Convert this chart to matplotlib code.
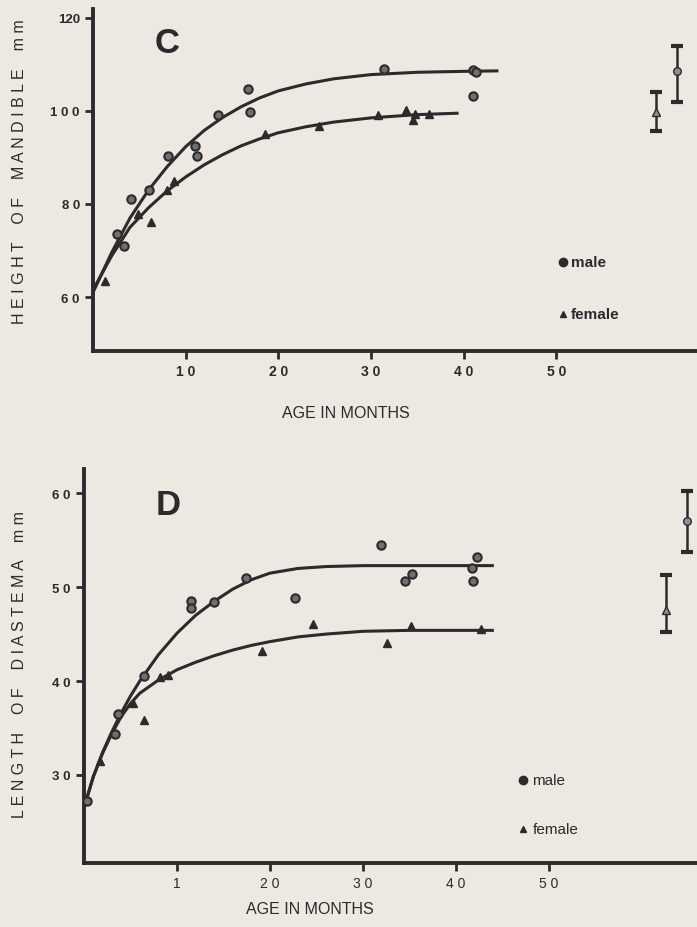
"""
growth curves of mandible height and diastema length (panels C and D)
"""
import numpy as np
import matplotlib.pyplot as plt

plt.rcParams['font.family'] = ['Liberation Sans', 'DejaVu Sans']

paper = '#eee8e3'
ink = '#2b2b2b'

# panel C : height of mandible (mm) vs age (months)
c_male_x = [2.6, 3.3, 4.1, 6.0, 8.1, 11.0, 11.2, 13.5, 16.7, 17.0, 31.4, 41.0, 41.3, 41.0]
c_male_y = [73.5, 71.0, 81.1, 83.0, 90.3, 92.5, 90.3, 99.1, 104.7, 99.8, 109.0, 108.8, 108.3, 103.2]
c_fem_x = [1.3, 4.9, 6.3, 8.0, 8.7, 18.6, 24.4, 30.8, 33.8, 34.8, 34.5, 36.3]
c_fem_y = [63.4, 77.8, 76.1, 83.0, 85.0, 95.0, 96.8, 99.1, 100.2, 99.4, 98.1, 99.4]
# fitted curves
c_male_cx = [0, 2, 4, 6, 8, 10, 12, 14, 16, 18, 20, 23, 26, 30, 35, 40, 43.6]
c_male_cy = [61, 69.5, 77, 83, 88, 92.3, 95.8, 98.6, 100.9, 102.8, 104.3, 105.8, 106.9, 107.8, 108.3, 108.5, 108.6]
c_fem_cx = [0, 2, 4, 6, 8, 10, 12, 14, 16, 18, 20, 23, 26, 30, 35, 39.3]
c_fem_cy = [61.5, 68.8, 75.0, 79.2, 82.8, 85.8, 88.4, 90.6, 92.5, 94.0, 95.3, 96.6, 97.6, 98.5, 99.2, 99.5]
# mean +- range bars at right
c_bar_x = [63.0, 60.8]
c_bar_mid = [108.6, 99.8]
c_bar_lo = [101.9, 95.7]
c_bar_hi = [114.0, 104.1]

# panel D : length of diastema (mm) vs age (months)
d_male_x = [0.3, 3.3, 3.7, 6.4, 11.5, 11.5, 14.0, 17.4, 22.7, 31.9, 34.5, 35.3, 41.8, 42.3, 41.7]
d_male_y = [27.2, 34.4, 36.5, 40.5, 48.5, 47.8, 48.4, 51.0, 48.9, 54.5, 50.7, 51.4, 50.7, 53.2, 52.1]
d_fem_x = [1.7, 5.3, 6.4, 8.2, 9.0, 19.1, 24.6, 32.6, 35.2, 42.7]
d_fem_y = [31.5, 37.7, 35.8, 40.4, 40.6, 43.2, 46.1, 44.0, 45.9, 45.5]
d_male_cx = [0, 1, 2, 3, 4, 5, 6, 8, 10, 12, 14, 16, 18, 20, 23, 26, 30, 35, 40, 43.9]
d_male_cy = [26.5, 29.8, 32.4, 34.6, 36.6, 38.4, 40.0, 42.8, 45.1, 47.0, 48.5, 49.8, 50.8, 51.5, 52.0, 52.2, 52.3, 52.3, 52.3, 52.3]
d_fem_cx = [0, 1, 2, 3, 4, 5, 6, 8, 10, 12, 14, 16, 18, 20, 23, 26, 30, 35, 40, 43.9]
d_fem_cy = [26.5, 29.8, 32.3, 34.4, 36.2, 37.6, 38.7, 40.1, 41.2, 42.0, 42.7, 43.3, 43.8, 44.2, 44.7, 45.0, 45.3, 45.4, 45.4, 45.4]
d_bar_x = [64.8, 62.6]
d_bar_mid = [57.1, 47.6]
d_bar_lo = [53.7, 45.2]
d_bar_hi = [60.3, 51.3]

W, H = 697, 928
fig = plt.figure(figsize=(W/100, H/100), dpi=100, facecolor=paper)

def px_axes(left, right, top, bottom):
    return fig.add_axes([left/W, 1-bottom/H, (right-left)/W, (bottom-top)/H])

def style(ax):
    ax.set_facecolor('none')
    for s in ['top', 'right']:
        ax.spines[s].set_visible(False)
    for s in ['left', 'bottom']:
        ax.spines[s].set_linewidth(2.8)
        ax.spines[s].set_color(ink)
    ax.tick_params(direction='out', length=6, width=2, color=ink, labelcolor=ink)

def draw(ax, mx, my, fx, fy, mcx, mcy, fcx, fcy, bx, bmid, blo, bhi):
    ax.plot(mcx, mcy, color=ink, lw=2.2, zorder=2)
    ax.plot(fcx, fcy, color=ink, lw=2.2, zorder=2)
    ax.plot(mx, my, 'o', ms=6, mfc='#707070', mec=ink, mew=1.5, zorder=3)
    ax.plot(fx, fy, '^', ms=5.5, mfc=ink, mec=ink, zorder=3)
    lo = np.array(bmid) - np.array(blo)
    hi = np.array(bhi) - np.array(bmid)
    ax.errorbar(bx[0], bmid[0], yerr=[[lo[0]], [hi[0]]], fmt='o', ms=5.5, mfc='#909090', mec=ink,
                ecolor=ink, elinewidth=1.8, capsize=4, capthick=3)
    ax.errorbar(bx[1], bmid[1], yerr=[[lo[1]], [hi[1]]], fmt='^', ms=5.5, mfc='#909090', mec=ink,
                ecolor=ink, elinewidth=1.8, capsize=4, capthick=3)

# ---- panel C
axc = px_axes(93, 697, 10, 352)
style(axc)
axc.set_xlim(0, 65.2)
axc.set_ylim(48.4, 121.9)
draw(axc, c_male_x, c_male_y, c_fem_x, c_fem_y, c_male_cx, c_male_cy, c_fem_cx, c_fem_cy,
     c_bar_x, c_bar_mid, c_bar_lo, c_bar_hi)
axc.set_xticks([10, 20, 30, 40, 50])
axc.set_xticklabels(['1 0', '2 0', '3 0', '4 0', '5 0'], fontsize=10, fontweight='bold')
axc.set_yticks([60, 80, 100, 120])
axc.set_yticklabels(['6 0', '8 0', '1 0 0', '120'], fontsize=9.5, fontweight='bold')
axc.text(8.0, 114.8, 'C', fontsize=25, fontweight='bold', color=ink, ha='center', va='center')
axc.plot([50.7], [67.5], 'o', ms=6, color=ink)
axc.text(51.6, 67.5, 'male', fontsize=11, fontweight='bold', color=ink, va='center')
axc.plot([50.7], [56.3], '^', ms=5, color=ink)
axc.text(51.6, 56.3, 'female', fontsize=11, fontweight='bold', color=ink, va='center')
fig.text(20/W, 1-172/H, 'H E I G H T    O F    M A N D I B L E    m m', rotation=90,
         fontsize=11.5, color=ink, ha='center', va='center')
fig.text(346/W, 1-414/H, 'AGE IN MONTHS', fontsize=11.5, color=ink, ha='center', va='center')

# ---- panel D
axd = px_axes(84, 697, 470, 864)
style(axd)
axd.set_xlim(0, 65.9)
axd.set_ylim(20.6, 62.6)
draw(axd, d_male_x, d_male_y, d_fem_x, d_fem_y, d_male_cx, d_male_cy, d_fem_cx, d_fem_cy,
     d_bar_x, d_bar_mid, d_bar_lo, d_bar_hi)
axd.set_xticks([10, 20, 30, 40, 50])
axd.set_xticklabels(['1', '2 0', '3 0', '4 0', '5 0'], fontsize=10)
axd.set_yticks([30, 40, 50, 60])
axd.set_yticklabels(['3 0', '4 0', '5 0', '6 0'], fontsize=9.5, fontweight='bold')
axd.text(9.0, 58.8, 'D', fontsize=25, fontweight='bold', color=ink, ha='center', va='center')
axd.plot([47.2], [29.4], 'o', ms=6, color=ink)
axd.text(48.2, 29.4, 'male', fontsize=11, color=ink, va='center')
axd.plot([47.2], [24.2], '^', ms=5, color=ink)
axd.text(48.2, 24.2, 'female', fontsize=11, color=ink, va='center')
fig.text(20/W, 1-665/H, 'L E N G T H    O F    D I A S T E M A    m m', rotation=90,
         fontsize=11.5, color=ink, ha='center', va='center')
fig.text(310/W, 1-910/H, 'AGE IN MONTHS', fontsize=11.5, color=ink, ha='center', va='center')

fig.savefig('out.png', dpi=100, facecolor=paper)
